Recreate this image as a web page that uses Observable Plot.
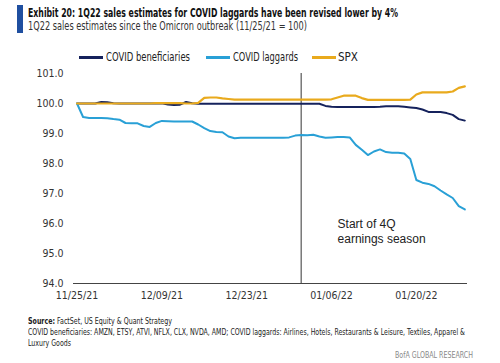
<!DOCTYPE html>
<html><head><meta charset="utf-8">
<script src="https://cdn.jsdelivr.net/npm/d3@7"></script>
<script src="https://cdn.jsdelivr.net/npm/@observablehq/plot@0.6"></script>
<style>
body{margin:0;background:#fff;width:500px;height:363px;position:relative;overflow:hidden;font-family:"DejaVu Sans Condensed","Liberation Sans Narrow","Arial Narrow",sans-serif;}
#bar{position:absolute;left:17px;top:5px;width:6px;height:28px;background:#1f4fa0;}
.fit{position:absolute;white-space:nowrap;transform-origin:0 50%;display:inline-block;}
#title{left:28px;top:6px;font-weight:bold;font-size:11.5px;color:#111;}
#sub{left:28px;top:19px;font-size:11.5px;color:#333;}
.lg{top:50px;font-size:11.5px;color:#222;}
.sw{position:absolute;top:56px;width:24px;height:3px;}
#chart{position:absolute;left:0;top:65px;}
.ft{left:28px;font-size:8.5px;color:#222;}
#brand{left:395px;top:350px;font-size:8.5px;color:#888;}
</style></head>
<body>
<div id="bar"></div>
<div id="title" class="fit" data-w="370">Exhibit 20: 1Q22 sales estimates for COVID laggards have been revised lower by 4%</div>
<div id="sub" class="fit" data-w="279">1Q22 sales estimates since the Omicron outbreak (11/25/21 = 100)</div>
<div id="legend"></div>
<div id="chart"></div>
<div class="fit ft" style="top:316px" data-w="144"><b>Source:</b> FactSet, US Equity &amp; Quant Strategy</div>
<div class="fit ft" style="top:327px" data-w="437">COVID beneficiaries: AMZN, ETSY, ATVI, NFLX, CLX, NVDA, AMD; COVID laggards: Airlines, Hotels, Restaurants &amp; Leisure, Textiles, Apparel &amp;</div>
<div class="fit ft" style="top:338px" data-w="43">Luxury Goods</div>
<div id="brand" class="fit" data-w="78">BofA GLOBAL RESEARCH</div>
<script>
const startDate = "2021-11-25";
const seriesNames = ["COVID beneficiaries", "COVID laggards", "SPX"];
const seriesColors = ["#15225c", "#29a0d6", "#e9aa1d"];
const beneficiaries = [100.00,100.00,100.00,100.00,100.05,100.04,100.01,100.00,100.00,100.00,
  100.00,100.00,100.00,100.00,100.01,99.97,99.95,99.96,100.05,100.01,
  99.99,99.99,99.99,99.99,99.99,99.99,99.99,99.99,99.99,99.99,
  99.99,99.99,99.99,99.99,99.99,99.99,99.99,99.99,99.99,99.99,
  99.99,99.92,99.89,99.88,99.88,99.88,99.88,99.88,99.88,99.88,
  99.89,99.91,99.91,99.91,99.89,99.87,99.85,99.80,99.72,99.72,
  99.72,99.68,99.62,99.48,99.43];
const laggards = [100.00,99.55,99.52,99.52,99.52,99.51,99.48,99.46,99.35,99.34,
  99.34,99.25,99.22,99.35,99.42,99.41,99.40,99.40,99.40,99.40,
  99.30,99.18,99.08,99.05,99.04,98.90,98.84,98.86,98.86,98.86,
  98.86,98.86,98.86,98.86,98.86,98.87,98.93,98.95,98.94,98.96,
  98.90,98.86,98.87,98.88,98.88,98.87,98.62,98.46,98.28,98.40,
  98.47,98.38,98.36,98.36,98.33,98.15,97.45,97.36,97.32,97.24,
  97.10,96.97,96.85,96.58,96.47];
const spx = [100.00,100.00,100.00,100.00,100.00,100.00,100.00,100.00,100.00,100.00,
  100.00,100.00,100.00,100.01,100.01,100.01,100.01,100.01,100.00,100.00,
  100.02,100.19,100.20,100.20,100.17,100.15,100.13,100.13,100.13,100.13,
  100.13,100.13,100.13,100.13,100.13,100.13,100.13,100.13,100.13,100.13,
  100.13,100.13,100.14,100.20,100.26,100.26,100.26,100.18,100.12,100.12,
  100.12,100.12,100.12,100.12,100.12,100.13,100.30,100.37,100.37,100.37,
  100.37,100.37,100.40,100.52,100.57];
const xTicks = ["2021-11-25","2021-12-09","2021-12-23","2022-01-06","2022-01-20"];
const yTicks = [94,95,96,97,98,99,100,101];
const eventDate = "2022-01-01";
const eventLabel = "Start of 4Q\nearnings season";
const eventLabelDate = "2022-01-07";
const eventLabelValue = 95.75;

const DAY = 864e5;
const t0 = new Date(startDate + "T00:00:00Z");
const dateOf = i => new Date(t0.getTime() + i * DAY);
const rows = [];
[beneficiaries, laggards, spx].forEach((arr, s) => arr.forEach((v, i) => rows.push({date: dateOf(i), value: v, series: seriesNames[s]})));

// legend
const leg = document.getElementById("legend");
const swX = [79, 206, 312], txX = [106, 233, 338], txW = [84, 65, 20];
seriesNames.forEach((n, i) => {
  const s = document.createElement("div"); s.className = "sw";
  s.style.left = swX[i] + "px"; s.style.background = seriesColors[i];
  leg.appendChild(s);
  const t = document.createElement("div"); t.className = "fit lg";
  t.style.left = txX[i] + "px"; t.dataset.w = txW[i]; t.textContent = n;
  leg.appendChild(t);
});

const ff = '"DejaVu Sans Condensed","Liberation Sans Narrow","Arial Narrow",sans-serif';
const chart = Plot.plot({
  width: 500, height: 240,
  marginLeft: 73, marginRight: 33, marginTop: 8, marginBottom: 22,
  style: {fontFamily: ff, fontSize: "10.5px", color: "#333", background: "#fff"},
  x: {type: "utc", domain: [new Date(t0.getTime() - 0.58 * DAY), new Date(t0.getTime() + 64.44 * DAY)]},
  y: {domain: [94, 101]},
  marks: [
    Plot.axisX(xTicks.map(s => new Date(s + "T00:00:00Z")), {tickSize: 0, tickPadding: 8, tickFormat: d3.utcFormat("%m/%d/%y"), label: null, fontSize: 10.5}),
    Plot.axisY(yTicks, {tickSize: 0, tickPadding: 10, tickFormat: d3.format(".1f"), label: null, fontSize: 10.5}),
    Plot.ruleX([new Date(eventDate + "T00:00:00Z")], {y1: 94, y2: 101, stroke: "#777", strokeWidth: 1.5}),
    Plot.ruleY([94], {stroke: "#444", strokeWidth: 1.2}),
    Plot.line(rows.filter(r => r.series === seriesNames[0]), {x: "date", y: "value", stroke: seriesColors[0], strokeWidth: 2}),
    Plot.line(rows.filter(r => r.series === seriesNames[1]), {x: "date", y: "value", stroke: seriesColors[1], strokeWidth: 2}),
    Plot.line(rows.filter(r => r.series === seriesNames[2]), {x: "date", y: "value", stroke: seriesColors[2], strokeWidth: 2.2}),
    Plot.text([eventLabel], {x: () => new Date(eventLabelDate + "T00:00:00Z"), y: () => eventLabelValue, text: d => d, textAnchor: "start", lineHeight: 1.25, fontFamily: '"Liberation Sans", Arial, sans-serif', fontSize: 12, fill: "#222"})
  ]
});
document.getElementById("chart").appendChild(chart);

document.querySelectorAll(".fit").forEach(el => {
  const w = el.getBoundingClientRect().width;
  const target = +el.dataset.w;
  if (w > 0 && target) el.style.transform = `scaleX(${target / w})`;
});
</script>
</body></html>
